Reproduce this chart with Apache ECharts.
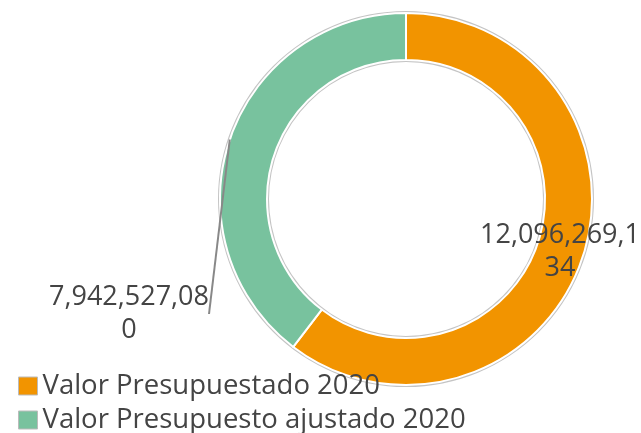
<!DOCTYPE html>
<html><head><meta charset="utf-8">
<script src="https://cdn.jsdelivr.net/npm/echarts@6/dist/echarts.min.js"></script>
<style>html,body{margin:0;padding:0;background:#fff}#c{width:641px;height:433px}</style>
</head><body><div id="c"></div>
<script>
const categories = ['Valor Presupuestado 2020', 'Valor Presupuesto ajustado 2020'];
const values = [12096269134, 7942527080];
const colors = ['#F29400', '#78C29E'];

const chart = echarts.init(document.getElementById('c'));
const FONT = '"Open Sans", "Noto Sans", sans-serif';
const labelPos = [[560, 252], [129, 314]];
const legendTops = [367, 401];
const legendBase = {
  orient: 'vertical', left: 13,
  itemWidth: 19, itemHeight: 18, itemGap: 6,
  icon: 'rect',
  itemStyle: { borderColor: '#bbb', borderWidth: 1 },
  textStyle: { fontFamily: FONT, fontSize: 27.5, lineHeight: 28, color: '#444' }
};
const pieBase = { type: 'pie', center: [406, 199], radius: [139, 186], startAngle: 90, clockwise: true };
chart.setOption({
  animation: false,
  legend: categories.map((c, i) => Object.assign({}, legendBase, { top: legendTops[i], data: [c] })),
  series: [
    {
      type: 'pie', silent: true, center: [406, 199], radius: [137, 188], z: 1,
      label: { show: false }, labelLine: { show: false },
      itemStyle: { color: '#c4c4c4' },
      data: [{ value: 1, name: '' }]
    },
    Object.assign({}, pieBase, {
      z: 2,
      itemStyle: { borderColor: '#fff', borderWidth: 2 },
      label: { show: false }, labelLine: { show: false },
      data: categories.map((n, i) => ({ name: n, value: values[i], itemStyle: { color: colors[i] } }))
    }),
    Object.assign({}, pieBase, {
      z: 3, silent: true,
      itemStyle: { color: 'rgba(0,0,0,0)', borderWidth: 0 },
      label: {
        show: true, position: 'outside',
        fontFamily: FONT, fontSize: 27, color: '#444', lineHeight: 33,
        width: 160, overflow: 'breakAll', align: 'center',
        formatter: p => p.value.toLocaleString('en-US')
      },
      labelLine: { show: true, lineStyle: { color: '#888', width: 2 } },
      labelLayout: function (params) {
        const p = labelPos[params.dataIndex];
        const out = { x: p[0], y: p[1], align: 'center', verticalAlign: 'middle' };
        if (params.dataIndex === 1) {
          const lay = chart.getModel().getSeriesByIndex(2).getData().getItemLayout(1);
          const mid = (lay.startAngle + lay.endAngle) / 2;
          const s = [lay.cx + lay.r * Math.cos(mid), lay.cy + lay.r * Math.sin(mid)];
          const e = [p[0] + params.labelRect.width / 2, p[1]];
          out.labelLinePoints = [s, e, e];
        }
        return out;
      },
      data: categories.map((n, i) => ({
        name: n, value: values[i],
        labelLine: { show: i === 1 }
      }))
    })
  ]
});
</script></body></html>
